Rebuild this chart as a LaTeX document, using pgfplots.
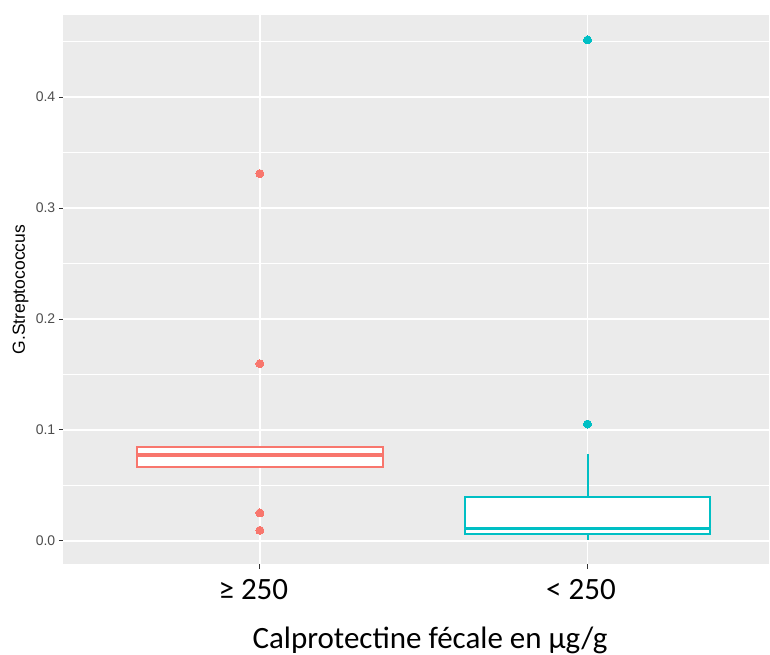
\documentclass[border=0pt]{standalone}
\usepackage{fontspec}
\setmainfont{Carlito}
\newfontfamily\arialf{Liberation Sans}
\usepackage{pgfplots}
\pgfplotsset{compat=1.18}
\usepgfplotslibrary{statistics}
\definecolor{ggred}{HTML}{F8766D}
\definecolor{ggcyan}{HTML}{00BFC4}
\definecolor{ggbg}{HTML}{EBEBEB}
\definecolor{ggtext}{HTML}{4D4D4D}
\definecolor{ggtick}{HTML}{333333}
\begin{document}
\begin{tikzpicture}
\path[use as bounding box] (0pt,0pt) rectangle (770pt,655pt);
\begin{axis}[
  at={(63.3pt,90.7pt)}, anchor=south west,
  scale only axis, width=705.7pt, height=549.3pt,
  xmin=0.4, xmax=2.554, ymin=-0.021, ymax=0.4739,
  axis background/.style={fill=ggbg},
  axis line style={draw=none},
  xtick={1,2}, xticklabels={≥ 250, < 250},
  ytick={0,0.1,0.2,0.3,0.4}, yticklabels={0.0,0.1,0.2,0.3,0.4},
  minor ytick={0.05,0.15,0.25,0.35,0.45},
  xtick pos=bottom, ytick pos=left,
  tick align=outside, major tick length=4.5pt, minor tick length=0pt,
  major tick style={ggtick, line width=1pt},
  xmajorgrids, ymajorgrids, yminorgrids,
  major grid style={white, line width=1.6pt},
  minor grid style={white, line width=0.8pt},
  xticklabel style={font=\fontsize{31}{36}\selectfont, anchor=base, yshift=-31pt, xshift=-6.5pt},
  yticklabel style={font=\arialf\fontsize{14}{16}\selectfont, text=ggtext},
  xlabel={Calprotectine fécale en µg/g},
  xlabel style={at={(axis description cs:0.5196,-0.1524)}, anchor=base, font=\fontsize{31}{36}\selectfont},
  ylabel={G.Streptococcus},
  ylabel style={at={(axis description cs:-0.0543,0.5)}, anchor=base, font=\arialf\fontsize{17.5}{20}\selectfont},
  boxplot/draw direction=y,
]
\addplot+[draw=ggred, line width=2pt, fill=white, mark=none,
  boxplot prepared={draw position=1, lower whisker=0.0655, lower quartile=0.0664,
    median=0.0775, upper quartile=0.085, upper whisker=0.0852,
    box extend=0.75, whisker extend=0,
    every median/.style={line width=3.5pt},
    every box/.style={line width=2pt},
    every whisker/.style={line width=2pt}}]
  coordinates {};
\addplot+[draw=ggcyan, line width=2pt, fill=white, mark=none,
  boxplot prepared={draw position=2, lower whisker=0.001, lower quartile=0.006,
    median=0.0114, upper quartile=0.0394, upper whisker=0.0784,
    box extend=0.75, whisker extend=0,
    every median/.style={line width=3.5pt},
    every box/.style={line width=2pt},
    every whisker/.style={line width=2pt}}]
  coordinates {};
\addplot[only marks, color=ggred, mark=*, mark size=4pt, mark options={fill=ggred, draw=ggred, line width=0pt}]
  coordinates {(1,0.0096) (1,0.0253) (1,0.1597) (1,0.331)};
\addplot[only marks, color=ggcyan, mark=*, mark size=4pt, mark options={fill=ggcyan, draw=ggcyan, line width=0pt}]
  coordinates {(2,0.1054) (2,0.4514)};
\end{axis}
\end{tikzpicture}
\end{document}
